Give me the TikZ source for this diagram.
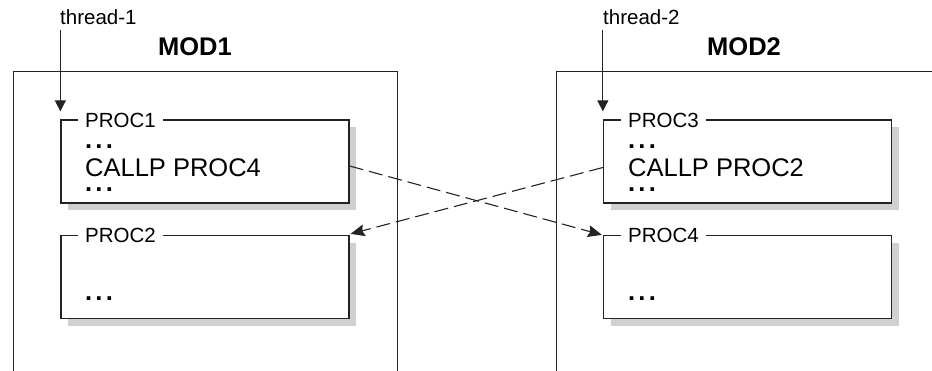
\documentclass[tikz,border=0pt]{standalone}
\usepackage{fontspec}
\setmainfont{Liberation Sans}
\usetikzlibrary{arrows.meta,shadows}
\definecolor{shgray}{RGB}{208,208,208}
\definecolor{ink}{RGB}{35,35,35}
\newcommand{\threedots}{\textbf{.\kern3.2pt.\kern3.2pt.}}
\begin{document}
\begin{tikzpicture}[x=1pt,y=-1pt,
  procbox/.style={draw=ink,line width=1.3pt,fill=white,minimum width=288pt,minimum height=83pt,inner sep=0pt,
    drop shadow={shadow xshift=7pt,shadow yshift=-7pt,fill=shgray,opacity=1}},
  proclabel/.style={anchor=base west,fill=white,inner xsep=7pt,inner ysep=1pt,font=\fontsize{20.5}{24}\selectfont},
  body/.style={anchor=base west,inner sep=0pt,font=\fontsize{25.5}{30}\selectfont},
  modlabel/.style={anchor=base,inner sep=0pt,font=\fontsize{25.5}{30}\selectfont\bfseries},
  threadlabel/.style={anchor=base west,inner sep=0pt,font=\fontsize{20.5}{24}\selectfont},
  frame/.style={draw=ink,line width=1pt},
  threadarrow/.style={draw=ink,line width=1pt,-{Triangle[length=11pt,width=11pt]}},
  callarrow/.style={draw=ink,line width=1.1pt,dash pattern=on 14pt off 6pt,-{Stealth[length=14pt,width=12pt,inset=2pt]}}
]
\useasboundingbox (0,0) rectangle (932,370);
% module frames (open at the bottom / right)
\coordinate (m1bl) at (13,372);
\coordinate (m1tl) at (13,71);
\coordinate (m1tr) at (397,71);
\coordinate (m1br) at (397,372);
\coordinate (m2bl) at (556,372);
\coordinate (m2tl) at (556,71);
\coordinate (m2tr) at (934,71);
\draw[frame] (m1bl) -- (m1tl) -- (m1tr) -- (m1br);
\draw[frame] (m2bl) -- (m2tl) -- (m2tr);
\node[modlabel] (mod1) at (195,55) {MOD1};
\node[modlabel] (mod2) at (744,55) {MOD2};
% procedure boxes
\node[procbox] (p1) at (205,161.5) {};
\node[procbox] (p2) at (205,277) {};
\node[procbox] (p3) at (747.5,161.5) {};
\node[procbox] (p4) at (747.5,277) {};
\node[proclabel] (l1) at (78,127.5) {PROC1};
\node[proclabel] (l2) at (78,242.5) {PROC2};
\node[proclabel] (l3) at (621,127.5) {PROC3};
\node[proclabel] (l4) at (621,242.5) {PROC4};
\node[body] (d1a) at (85,148) {\threedots};
\node[body] (c1) at (85,176) {CALLP PROC4};
\node[body] (d1b) at (85,191) {\threedots};
\node[body] (d2) at (85,300) {\threedots};
\node[body] (d3a) at (628,148) {\threedots};
\node[body] (c3) at (628,176) {CALLP PROC2};
\node[body] (d3b) at (628,191) {\threedots};
\node[body] (d4) at (628,300) {\threedots};
% threads
\node[threadlabel] (t1) at (60,24) {thread-1};
\node[threadlabel] (t2) at (603,24) {thread-2};
\draw[threadarrow] ([yshift=-6pt]p1.north west |- t1.south) -- ([yshift=8pt]p1.north west);
\draw[threadarrow] ([yshift=-6pt]p3.north west |- t2.south) -- ([yshift=8pt]p3.north west);
% calls
\draw[callarrow] ([yshift=-4.5pt]p1.east) -- ([xshift=-1pt]p4.north west);
\draw[callarrow] ([yshift=-6pt]p3.west) -- ([xshift=1pt,yshift=1pt]p2.north east);
\end{tikzpicture}
\end{document}
